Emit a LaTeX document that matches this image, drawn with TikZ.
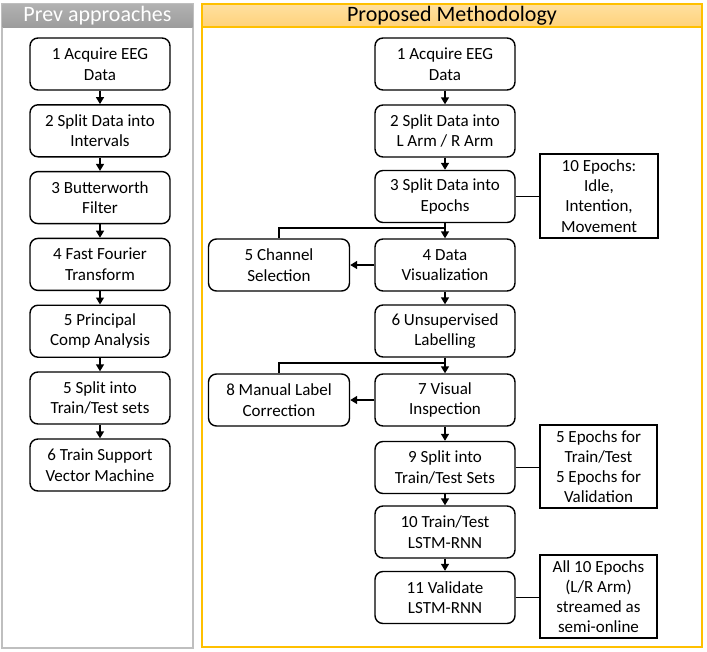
\documentclass[tikz,border=0pt]{standalone}
\usepackage{fontspec}
\setmainfont{Carlito}
\usetikzlibrary{arrows.meta}
\definecolor{panelgray}{HTML}{BFBFBF}
\definecolor{headgraytop}{HTML}{B2B2B2}
\definecolor{headgraybot}{HTML}{9C9C9C}
\definecolor{panelorange}{HTML}{FFC000}
\definecolor{headorangetop}{HTML}{FFE0A0}
\definecolor{headorangebot}{HTML}{FFD27A}
\tikzset{
  stepbox/.style={draw, rounded corners=8pt, line width=1.4pt, minimum width=140pt,
    minimum height=52pt, align=center, inner sep=0pt, font=\fontsize{17}{20.5}\selectfont},
  notebox/.style={draw, line width=1.4pt, minimum width=118pt, minimum height=84pt,
    align=center, inner sep=0pt, font=\fontsize{17}{20.2}\selectfont},
  headbox/.style={minimum height=23pt, inner sep=0pt, font=\fontsize{22}{24}\selectfont},
  arr/.style={line width=1.4pt, -{Triangle[width=8pt,length=7pt]}},
  conn/.style={line width=1.4pt},
}
\begin{document}
\begin{tikzpicture}[x=1pt,y=-1pt]
\useasboundingbox (0,0) rectangle (707,651);
% panels
\draw[panelgray, line width=1.6pt] (2,4) rectangle (193,648);
\node[headbox, top color=headgraytop, bottom color=headgraybot, minimum width=190pt, text=white] (lh) at (97.5,15.5) {Prev approaches};
\draw[panelorange, line width=1.6pt] (202,4) rectangle (702,647);
\node[headbox, top color=headorangetop, bottom color=headorangebot, draw=panelorange, line width=1.2pt, minimum width=500pt] (rh) at (452,15.5) {Proposed Methodology};

% left column
\node[stepbox] (l1) at (100,64) {1 Acquire EEG\\Data};
\node[stepbox] (l2) at (100,130.8) {2 Split Data into\\Intervals};
\node[stepbox] (l3) at (100,197.6) {3 Butterworth\\Filter};
\node[stepbox] (l4) at (100,264.4) {4 Fast Fourier\\Transform};
\node[stepbox] (l5) at (100,331.2) {5 Principal\\Comp Analysis};
\node[stepbox] (l6) at (100,398) {5 Split into\\Train/Test sets};
\node[stepbox] (l7) at (100,465) {6 Train Support\\Vector Machine};
\draw[arr] (l1) -- (l2);
\draw[arr] (l2) -- (l3);
\draw[arr] (l3) -- (l4);
\draw[arr] (l4) -- (l5);
\draw[arr] (l5) -- (l6);
\draw[arr] (l6) -- (l7);

% right column
\node[stepbox] (r1) at (445,64) {1 Acquire EEG\\Data};
\node[stepbox] (r2) at (445,131) {2 Split Data into\\L Arm / R Arm};
\node[stepbox] (r3) at (445,196.5) {3 Split Data into\\Epochs};
\node[stepbox] (r4) at (445,265) {4 Data\\Visualization};
\node[stepbox] (r6) at (445,331) {6 Unsupervised\\Labelling};
\node[stepbox] (r7) at (445,400) {7 Visual\\Inspection};
\node[stepbox] (r9) at (445,467.5) {9 Split into\\Train/Test Sets};
\node[stepbox] (r10) at (445,532) {10 Train/Test\\LSTM-RNN};
\node[stepbox] (r11) at (445,597.5) {11 Validate\\LSTM-RNN};
\node[stepbox, minimum width=141pt] (r5) at (279,265) {5 Channel\\Selection};
\node[stepbox, minimum width=141pt] (r8) at (279,400) {8 Manual Label\\Correction};

\node[notebox] (n1) at (599,196) {10 Epochs:\\Idle,\\Intention,\\Movement};
\node[notebox, minimum width=117pt, minimum height=83pt] (n2) at (598.5,466.5) {5 Epochs for\\Train/Test\\5 Epochs for\\Validation};
\node[notebox, minimum width=117pt, minimum height=83pt] (n3) at (598.5,596.5) {All 10 Epochs\\(L/R Arm)\\streamed as\\semi-online};

\draw[arr] (r1) -- (r2);
\draw[arr] (r2) -- (r3);
\draw[arr] (r3) -- (r4);
\draw[arr] (r4) -- (r6);
\draw[arr] (r6) -- (r7);
\draw[arr] (r7) -- (r9);
\draw[arr] (r9) -- (r10);
\draw[arr] (r10) -- (r11);

\coordinate (b1) at (445,228);
\coordinate (b2) at (445,363);
\draw[conn] (b1) -| (r5.north);
\draw[conn] (b2) -| (r8.north);
\draw[arr] (r4.west) -- (r5.east);
\draw[arr] (r7.west) -- (r8.east);

\draw[conn] (r3.east) -- (r3.east -| n1.west);
\draw[conn] (r9.east) -- (r9.east -| n2.west);
\draw[conn] (r11.east) -- (r11.east -| n3.west);
\end{tikzpicture}
\end{document}
